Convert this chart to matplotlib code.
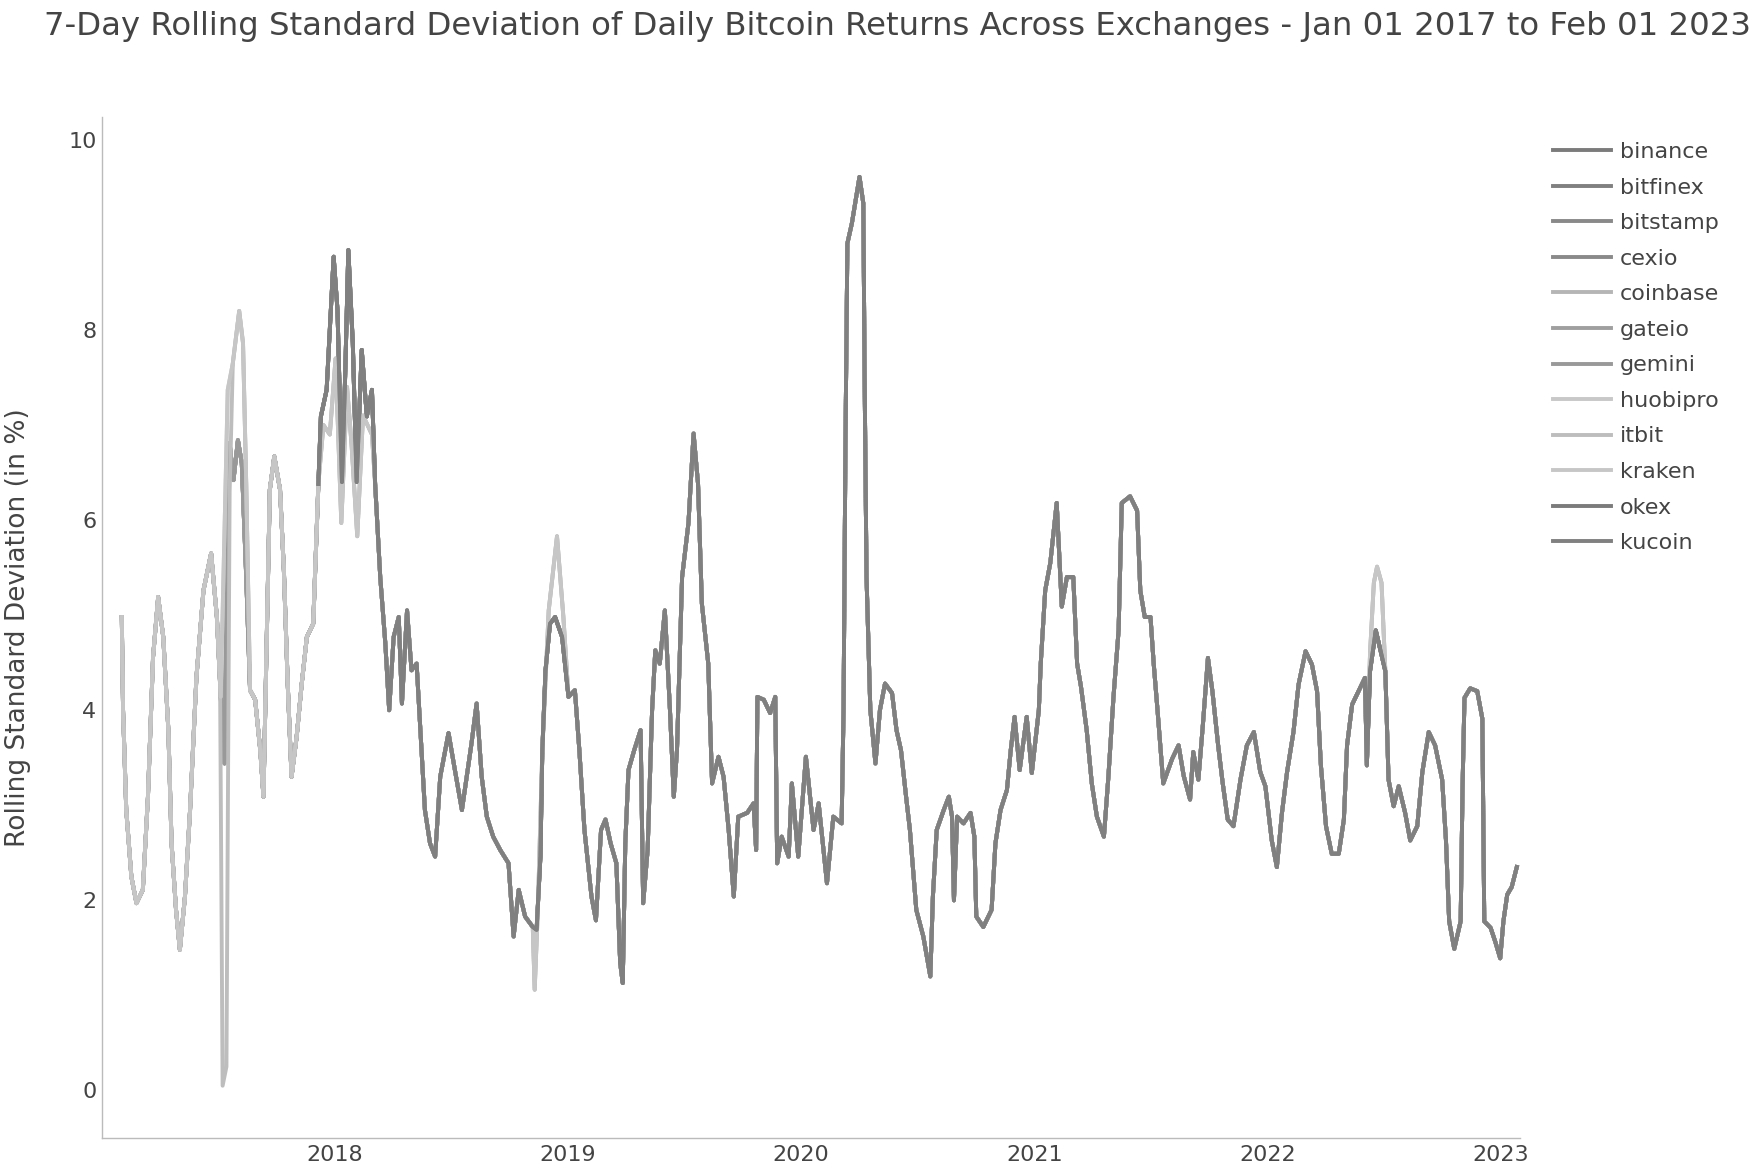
import numpy as np
import pandas as pd
import matplotlib
matplotlib.use("Agg")
import matplotlib.pyplot as plt

# ---------------- data ----------------
exchanges = ['binance', 'bitfinex', 'bitstamp', 'cexio', 'coinbase', 'gateio',
             'gemini', 'huobipro', 'itbit', 'kraken', 'okex', 'kucoin']
start_dates = ['2017-07-20', '2017-02-01', '2017-02-01', '2017-02-01', '2017-02-01', '2017-02-01',
               '2017-02-01', '2017-02-01', '2017-02-01', '2017-02-01', '2017-12-01', '2017-12-01']
strand = ['main', 'main', 'main', 'main', 'main', 'main',
          'main', 'light', 'dip', 'light', 'main', 'main']
colors = ['#7b7b7b', '#808080', '#898989', '#8a8a8a', '#b5b5b5', '#9f9f9f',
          '#999999', '#c8c8c8', '#bdbdbd', '#c6c6c6', '#7b7b7b', '#808080']

main_dates = [
    "2017-02-01", "2017-02-03", "2017-02-08", "2017-02-16", "2017-02-24", "2017-03-06", "2017-03-14",
    "2017-03-22", "2017-03-30", "2017-04-07", "2017-04-15", "2017-04-20", "2017-04-27", "2017-05-03",
    "2017-05-11", "2017-05-19", "2017-05-29", "2017-06-09", "2017-06-21", "2017-06-30", "2017-07-06",
    "2017-07-12", "2017-07-17", "2017-07-20", "2017-07-26", "2017-08-02", "2017-08-08", "2017-08-15",
    "2017-08-21", "2017-08-29", "2017-09-06", "2017-09-11", "2017-09-16", "2017-09-21", "2017-09-28",
    "2017-10-07", "2017-10-13", "2017-10-19", "2017-10-25", "2017-11-02", "2017-11-10", "2017-11-18",
    "2017-11-28", "2017-12-06", "2017-12-10", "2017-12-19", "2017-12-30", "2018-01-05", "2018-01-12",
    "2018-01-17", "2018-01-22", "2018-01-29", "2018-02-04", "2018-02-12", "2018-02-20", "2018-02-28",
    "2018-03-05", "2018-03-13", "2018-03-21", "2018-03-27", "2018-04-03", "2018-04-11", "2018-04-16",
    "2018-04-24", "2018-05-01", "2018-05-09", "2018-05-16", "2018-05-22", "2018-05-30", "2018-06-07",
    "2018-06-15", "2018-06-28", "2018-07-08", "2018-07-19", "2018-08-03", "2018-08-11", "2018-08-19",
    "2018-08-27", "2018-09-06", "2018-09-17", "2018-09-30", "2018-10-08", "2018-10-16", "2018-10-26",
    "2018-11-07", "2018-11-13", "2018-11-19", "2018-11-22", "2018-11-27", "2018-12-04", "2018-12-12",
    "2018-12-23", "2019-01-02", "2019-01-12", "2019-01-19", "2019-01-27", "2019-02-07", "2019-02-14",
    "2019-02-22", "2019-03-01", "2019-03-09", "2019-03-18", "2019-03-24", "2019-03-28", "2019-04-01",
    "2019-04-06", "2019-04-15", "2019-04-25", "2019-04-29", "2019-05-06", "2019-05-13", "2019-05-18",
    "2019-05-25", "2019-06-02", "2019-06-10", "2019-06-16", "2019-06-21", "2019-06-29", "2019-07-09",
    "2019-07-17", "2019-07-24", "2019-07-30", "2019-08-09", "2019-08-15", "2019-08-25", "2019-09-02",
    "2019-09-10", "2019-09-18", "2019-09-25", "2019-10-09", "2019-10-19", "2019-10-23", "2019-10-25",
    "2019-11-04", "2019-11-14", "2019-11-22", "2019-11-25", "2019-12-02", "2019-12-13", "2019-12-18",
    "2019-12-28", "2020-01-09", "2020-01-21", "2020-01-29", "2020-02-11", "2020-02-21", "2020-03-05",
    "2020-03-08", "2020-03-11", "2020-03-14", "2020-03-21", "2020-04-02", "2020-04-08", "2020-04-10",
    "2020-04-13", "2020-04-19", "2020-04-27", "2020-05-04", "2020-05-12", "2020-05-23", "2020-05-30",
    "2020-06-06", "2020-06-14", "2020-06-20", "2020-06-30", "2020-07-11", "2020-07-22", "2020-07-26",
    "2020-08-01", "2020-08-12", "2020-08-20", "2020-08-25", "2020-08-28", "2020-09-02", "2020-09-12",
    "2020-09-23", "2020-09-29", "2020-10-02", "2020-10-13", "2020-10-26", "2020-11-01", "2020-11-09",
    "2020-11-19", "2020-11-25", "2020-12-01", "2020-12-09", "2020-12-20", "2020-12-28", "2021-01-08",
    "2021-01-11", "2021-01-18", "2021-01-26", "2021-02-05", "2021-02-13", "2021-02-21", "2021-03-03",
    "2021-03-09", "2021-03-15", "2021-03-24", "2021-04-01", "2021-04-09", "2021-04-20", "2021-04-27",
    "2021-05-05", "2021-05-13", "2021-05-18", "2021-05-31", "2021-06-11", "2021-06-16", "2021-06-23",
    "2021-07-02", "2021-07-07", "2021-07-13", "2021-07-22", "2021-08-05", "2021-08-15", "2021-08-23",
    "2021-09-02", "2021-09-07", "2021-09-15", "2021-09-22", "2021-09-30", "2021-10-07", "2021-10-16",
    "2021-10-23", "2021-10-31", "2021-11-09", "2021-11-20", "2021-11-30", "2021-12-11", "2021-12-21",
    "2021-12-29", "2022-01-08", "2022-01-16", "2022-01-24", "2022-02-01", "2022-02-11", "2022-02-19",
    "2022-03-02", "2022-03-12", "2022-03-20", "2022-03-26", "2022-04-03", "2022-04-12", "2022-04-23",
    "2022-05-01", "2022-05-06", "2022-05-14", "2022-05-24", "2022-06-03", "2022-06-06", "2022-06-11",
    "2022-06-20", "2022-06-30", "2022-07-05", "2022-07-10", "2022-07-18", "2022-07-26", "2022-08-05",
    "2022-08-13", "2022-08-24", "2022-09-01", "2022-09-11", "2022-09-21", "2022-10-02", "2022-10-08",
    "2022-10-13", "2022-10-21", "2022-10-31", "2022-11-03", "2022-11-06", "2022-11-15", "2022-11-26",
    "2022-12-04", "2022-12-07", "2022-12-17", "2022-12-24", "2023-01-01", "2023-01-06", "2023-01-12",
    "2023-01-19", "2023-01-27",
]
main_vals = [
    4.98, 4.00, 2.95, 2.25, 1.97, 2.11, 3.09,
    4.56, 5.19, 4.77, 3.79, 2.60, 1.90, 1.48,
    2.04, 2.95, 4.35, 5.26, 5.65, 4.98, 4.14,
    3.44, 6.10, 6.81, 6.42, 6.84, 6.60, 5.40,
    4.21, 4.11, 3.58, 3.09, 4.70, 6.32, 6.67,
    6.32, 5.47, 4.28, 3.30, 3.72, 4.28, 4.77,
    4.91, 6.38, 7.09, 7.37, 8.77, 8.21, 6.40,
    7.51, 8.84, 7.86, 6.40, 7.79, 7.09, 7.37,
    6.38, 5.40, 4.70, 4.00, 4.77, 4.98, 4.07,
    5.05, 4.42, 4.49, 3.65, 2.95, 2.60, 2.46,
    3.30, 3.76, 3.37, 2.95, 3.65, 4.07, 3.30,
    2.88, 2.67, 2.53, 2.39, 1.62, 2.11, 1.83,
    1.72, 1.69, 2.46, 3.58, 4.42, 4.91, 4.98,
    4.77, 4.14, 4.21, 3.58, 2.74, 2.04, 1.79,
    2.74, 2.85, 2.60, 2.39, 1.34, 1.13, 2.60,
    3.37, 3.58, 3.79, 1.97, 2.53, 4.00, 4.63,
    4.49, 5.05, 4.00, 3.09, 3.58, 5.40, 5.97,
    6.91, 6.38, 5.12, 4.49, 3.23, 3.51, 3.30,
    2.74, 2.04, 2.88, 2.92, 3.02, 2.53, 4.14,
    4.11, 3.97, 4.14, 2.39, 2.67, 2.46, 3.23,
    2.46, 3.51, 2.74, 3.02, 2.18, 2.88, 2.81,
    4.00, 6.81, 8.91, 9.12, 9.61, 9.33, 7.51,
    5.40, 4.00, 3.44, 4.00, 4.28, 4.18, 3.79,
    3.58, 3.09, 2.74, 1.90, 1.62, 1.20, 2.04,
    2.74, 2.95, 3.09, 2.88, 2.00, 2.88, 2.81,
    2.92, 2.67, 1.83, 1.72, 1.90, 2.60, 2.95,
    3.16, 3.58, 3.93, 3.37, 3.93, 3.34, 4.00,
    4.49, 5.26, 5.55, 6.18, 5.09, 5.40, 5.40,
    4.49, 4.25, 3.79, 3.23, 2.88, 2.67, 3.30,
    4.14, 4.84, 6.18, 6.25, 6.10, 5.26, 4.98,
    4.98, 4.49, 4.00, 3.23, 3.49, 3.63, 3.31,
    3.06, 3.56, 3.27, 3.84, 4.55, 4.20, 3.63,
    3.24, 2.85, 2.78, 3.27, 3.63, 3.77, 3.35,
    3.20, 2.63, 2.35, 2.92, 3.35, 3.77, 4.27,
    4.62, 4.48, 4.20, 3.42, 2.78, 2.49, 2.49,
    2.85, 3.63, 4.06, 4.20, 4.34, 3.42, 4.41,
    4.84, 4.55, 4.41, 3.27, 2.99, 3.20, 2.92,
    2.63, 2.78, 3.35, 3.77, 3.63, 3.27, 2.63,
    1.78, 1.49, 1.78, 3.20, 4.13, 4.23, 4.20,
    3.91, 1.78, 1.71, 1.57, 1.39, 1.78, 2.06,
    2.14, 2.35,
]

# pale strand where some exchanges depart from the main band
light_a_dates = ["2017-07-06", "2017-07-17", "2017-07-25", "2017-08-04", "2017-08-10", "2017-08-15", "2017-08-21"]
light_a_vals = [4.14, 7.37, 7.65, 8.20, 7.86, 6.38, 4.21]
light_b_dates = ["2017-12-06", "2017-12-14", "2017-12-24", "2018-01-02", "2018-01-11", "2018-01-20",
                 "2018-01-27", "2018-02-05", "2018-02-14", "2018-02-28", "2018-03-05"]
light_b_vals = [6.38, 7.00, 6.90, 7.70, 5.97, 7.40, 6.80, 5.83, 7.10, 6.90, 6.38]
light_c_dates = ["2018-11-07", "2018-11-10", "2018-11-15", "2018-11-22", "2018-12-02", "2018-12-15",
                 "2018-12-25", "2019-01-02"]
light_c_vals = [1.72, 1.06, 1.90, 3.58, 5.05, 5.83, 4.98, 4.14]
light_d_dates = ["2022-06-06", "2022-06-11", "2022-06-17", "2022-06-22", "2022-06-29", "2022-07-05"]
light_d_vals = [3.42, 4.60, 5.34, 5.51, 5.34, 4.41]
# single exchange dropping to ~0 in July 2017
dip_dates = ["2017-06-30", "2017-07-05", "2017-07-09", "2017-07-15", "2017-07-20", "2017-07-25"]
dip_vals = [4.98, 4.30, 0.05, 0.25, 6.30, 7.65]

title = ("7-Day Rolling Standard Deviation of Daily Bitcoin Returns Across Exchanges"
         " - Jan 01 2017 to Feb 01 2023")
ylabel = "Rolling Standard Deviation (in %)"
year_ticks = ["2018-01-01", "2019-01-01", "2020-01-01", "2021-01-01", "2022-01-01", "2023-01-01"]
year_labels = ["2018", "2019", "2020", "2021", "2022", "2023"]
y_ticks = [0, 2, 4, 6, 8, 10]


def build(segments):
    s = pd.Series(np.array(main_vals, float), index=pd.to_datetime(main_dates))
    for sd, sv in segments:
        idx = pd.to_datetime(sd)
        s = s[(s.index < idx.min()) | (s.index > idx.max())]
        s = pd.concat([s, pd.Series(np.array(sv, float), index=idx)]).sort_index()
    return s


light_segs = [(light_a_dates, light_a_vals), (light_b_dates, light_b_vals),
              (light_c_dates, light_c_vals), (light_d_dates, light_d_vals)]
series_by_strand = {
    'main': build([]),
    'light': build(light_segs),
    'dip': build(light_segs + [(dip_dates, dip_vals)]),
}

# ---------------- figure ----------------
W, H = 1754, 1166
plt.rcParams['font.family'] = ['DejaVu Sans']
fig = plt.figure(figsize=(W / 100, H / 100), dpi=100)
txt = '#444444'

x0, x1, ytop, ybot = 102, 1520, 117, 1138
ax = fig.add_axes([x0 / W, 1 - ybot / H, (x1 - x0) / W, (ybot - ytop) / H])

for name, sd, st, col in zip(exchanges, start_dates, strand, colors):
    s = series_by_strand[st]
    s = s[s.index >= pd.Timestamp(sd)]
    ax.plot(s.index, s.values, color=col, lw=2.8, label=name, solid_joinstyle='round')

ax.set_xlim(pd.Timestamp("2017-01-01"), pd.Timestamp("2023-02-01"))
ax.set_ylim(-0.5, 10.24)
ax.set_xticks(pd.to_datetime(year_ticks))
ax.set_xticklabels(year_labels)
ax.set_yticks(y_ticks)
ax.set_yticklabels([str(v) for v in y_ticks])
ax.tick_params(axis='both', length=0, labelsize=16, colors=txt)
ax.tick_params(axis='x', pad=5)
ax.tick_params(axis='y', pad=4)
for side in ['top', 'right']:
    ax.spines[side].set_visible(False)
for side in ['left', 'bottom']:
    ax.spines[side].set_color('#bbbbbb')
    ax.spines[side].set_linewidth(1)
ax.set_ylabel(ylabel, fontsize=19, color=txt)
ax.yaxis.label.set_va('center')
ax.yaxis.set_label_coords((18 - x0) / (x1 - x0), 0.5)

leg = fig.legend(loc='upper left', bbox_to_anchor=(1553 / W, 1 - 142 / H), frameon=False,
                 fontsize=16, handlelength=2.6, handletextpad=0.4, labelspacing=0.70,
                 borderpad=0, borderaxespad=0)
for t in leg.get_texts():
    t.set_color(txt)

tt = fig.text(897 / W, 1 - 27 / H, title, ha='center', va='center', fontsize=22, color=txt)
fig.canvas.draw()
w = tt.get_window_extent().width
tt.set_fontsize(22 * 1705 / w)

fig.savefig("out.png", dpi=100)
